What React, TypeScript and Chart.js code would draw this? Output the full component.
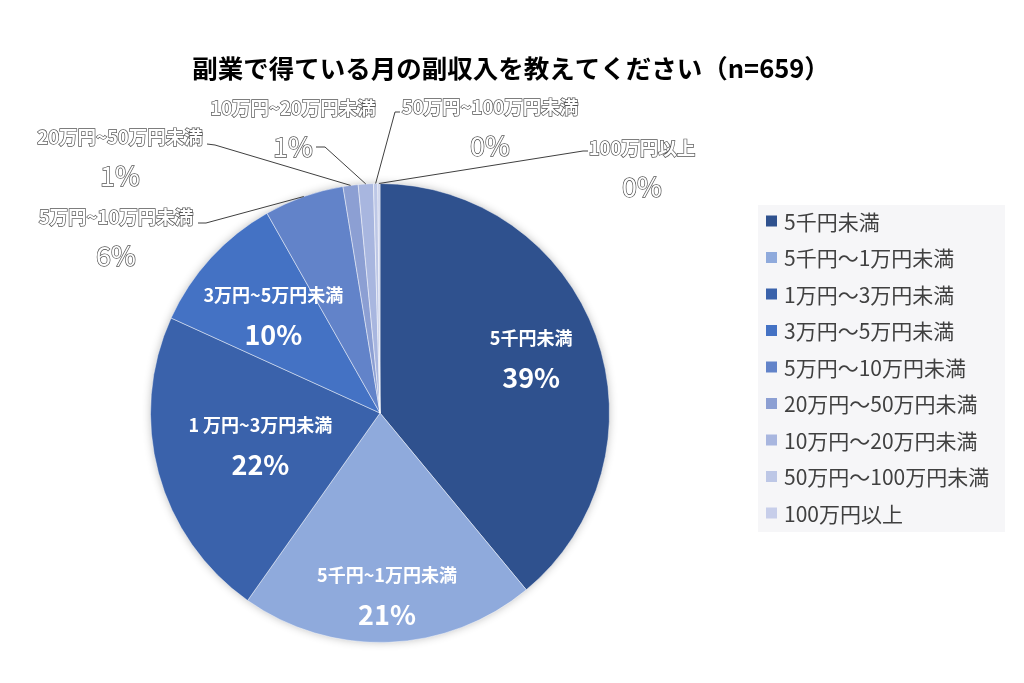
import { useEffect, useRef } from 'react';
import { Chart, registerables } from 'chart.js';

Chart.register(...registerables);

const title = '副業で得ている月の副収入を教えてください（n=659）';

// legend names
const categories = [
  '5千円未満',
  '5千円〜1万円未満',
  '1万円〜3万円未満',
  '3万円〜5万円未満',
  '5万円〜10万円未満',
  '20万円〜50万円未満',
  '10万円〜20万円未満',
  '50万円〜100万円未満',
  '100万円以上',
];

// names written on the pie
const sliceNames = [
  '5千円未満',
  '5千円~1万円未満',
  '1 万円~3万円未満',
  '3万円~5万円未満',
  '5万円~10万円未満',
  '20万円~50万円未満',
  '10万円~20万円未満',
  '50万円~100万円未満',
  '100万円以上',
];

// respondents (n=659)
const counts = [257, 137, 145, 66, 37, 7, 7, 2, 1];

const colors = [
  '#2F518E',
  '#8FAADC',
  '#3A62AB',
  '#4472C4',
  '#6283C9',
  '#8C9FD3',
  '#A8B6DF',
  '#BDC7E6',
  '#C7CEEA',
];

const FONT = '"Noto Sans CJK JP", "Noto Sans", sans-serif';

// where labels go: inner ones by radius fraction, outer ones by block centre + leader line
const inner: Record<number, number> = { 0: 0.7, 1: 0.795, 2: 0.54, 3: 0.63 };
const outer: Record<number, { x: number; y: number; line: [number, number][] }> = {
  4: { x: 116, y: 237, line: [[198, 223], [206, 223]] },
  5: { x: 120, y: 157, line: [[207, 144], [215, 145]] },
  6: { x: 293, y: 128, line: [[316, 147], [325, 147]] },
  7: { x: 490, y: 127, line: [[400, 112], [395, 112]] },
  8: { x: 642, y: 168, line: [[588, 151], [583, 151]] },
};

const piePlugin = {
  id: 'piePlugin',
  beforeDraw(chart: any) {
    const { ctx, width } = chart;
    ctx.save();
    ctx.fillStyle = '#ffffff';
    ctx.fillRect(0, 0, width, chart.height);
    // title
    ctx.fillStyle = '#000000';
    ctx.font = `bold 25.5px ${FONT}`;
    ctx.textAlign = 'center';
    ctx.textBaseline = 'middle';
    ctx.fillText(title, 511, 68);
    // legend
    ctx.fillStyle = '#F6F6F8';
    ctx.fillRect(758, 205, 247, 327);
    ctx.font = `21px ${FONT}`;
    ctx.textAlign = 'left';
    const labels = chart.data.labels;
    const bg = chart.data.datasets[0].backgroundColor;
    labels.forEach((l: string, i: number) => {
      const y = 221 + i * 36.5;
      ctx.fillStyle = bg[i];
      ctx.fillRect(766, y - 5.5, 11, 11);
      ctx.fillStyle = '#404040';
      ctx.fillText(l, 784, y + 1);
    });
    ctx.restore();
  },
  beforeDatasetsDraw(chart: any) {
    const arc = chart.getDatasetMeta(0).data[0];
    if (!arc) return;
    const { ctx } = chart;
    ctx.save();
    ctx.shadowColor = 'rgba(0,0,0,0.3)';
    ctx.shadowBlur = 10;
    ctx.fillStyle = '#ffffff';
    ctx.beginPath();
    ctx.arc(arc.x, arc.y, arc.outerRadius - 1, 0, Math.PI * 2);
    ctx.fill();
    ctx.restore();
  },
  afterDatasetsDraw(chart: any) {
    const { ctx } = chart;
    const meta = chart.getDatasetMeta(0);
    const data = chart.data.datasets[0].data as number[];
    const total = data.reduce((a, b) => a + b, 0);
    ctx.save();
    ctx.textAlign = 'center';
    ctx.textBaseline = 'middle';
    meta.data.forEach((el: any, i: number) => {
      const { x, y, startAngle, endAngle, outerRadius } = el.getProps(
        ['x', 'y', 'startAngle', 'endAngle', 'outerRadius'],
        true
      );
      const mid = (startAngle + endAngle) / 2;
      const pct = Math.round((data[i] / total) * 100) + '%';
      if (inner[i] !== undefined) {
        const r = outerRadius * inner[i];
        const cx = x + Math.cos(mid) * r;
        const cy = y + Math.sin(mid) * r;
        ctx.fillStyle = '#ffffff';
        ctx.font = `bold 18px ${FONT}`;
        ctx.fillText(sliceNames[i], cx, cy - 20);
        ctx.font = `bold 27px ${FONT}`;
        ctx.fillText(pct, cx, cy + 19);
      } else if (outer[i]) {
        const o = outer[i];
        const ex = x + Math.cos(mid) * outerRadius;
        const ey = y + Math.sin(mid) * outerRadius;
        ctx.strokeStyle = '#404040';
        ctx.lineWidth = 1;
        ctx.beginPath();
        ctx.moveTo(o.line[0][0], o.line[0][1]);
        o.line.slice(1).forEach((p) => ctx.lineTo(p[0], p[1]));
        ctx.lineTo(ex, ey);
        ctx.stroke();
        ctx.fillStyle = '#ffffff';
        ctx.strokeStyle = '#555555';
        ctx.lineWidth = 1.4;
        ctx.font = `bold 18.5px ${FONT}`;
        ctx.strokeText(sliceNames[i], o.x, o.y - 20);
        ctx.fillText(sliceNames[i], o.x, o.y - 20);
        ctx.font = `27px ${FONT}`;
        ctx.strokeText(pct, o.x, o.y + 19);
        ctx.fillText(pct, o.x, o.y + 19);
      }
    });
    ctx.restore();
  },
};

export default function App() {
  const canvasRef = useRef<HTMLCanvasElement | null>(null);
  const chartRef = useRef<Chart | null>(null);

  useEffect(() => {
    document.body.style.margin = '0';
    const ctx = canvasRef.current?.getContext('2d');
    if (!ctx) return;
    chartRef.current = new Chart(ctx, {
      type: 'pie',
      data: {
        labels: categories,
        datasets: [
          {
            data: counts,
            backgroundColor: colors,
            borderColor: 'rgba(255,255,255,0.45)',
            borderWidth: 1,
          },
        ],
      },
      options: {
        responsive: false,
        animation: false,
        devicePixelRatio: 1,
        layout: { padding: { left: 150, right: 414, top: 183, bottom: 40 } },
        plugins: {
          legend: { display: false },
          title: { display: false },
          tooltip: { enabled: false },
        },
      },
      plugins: [piePlugin],
    });
    return () => chartRef.current?.destroy();
  }, []);

  return <canvas ref={canvasRef} width={1024} height={683} style={{ display: 'block' }} />;
}
